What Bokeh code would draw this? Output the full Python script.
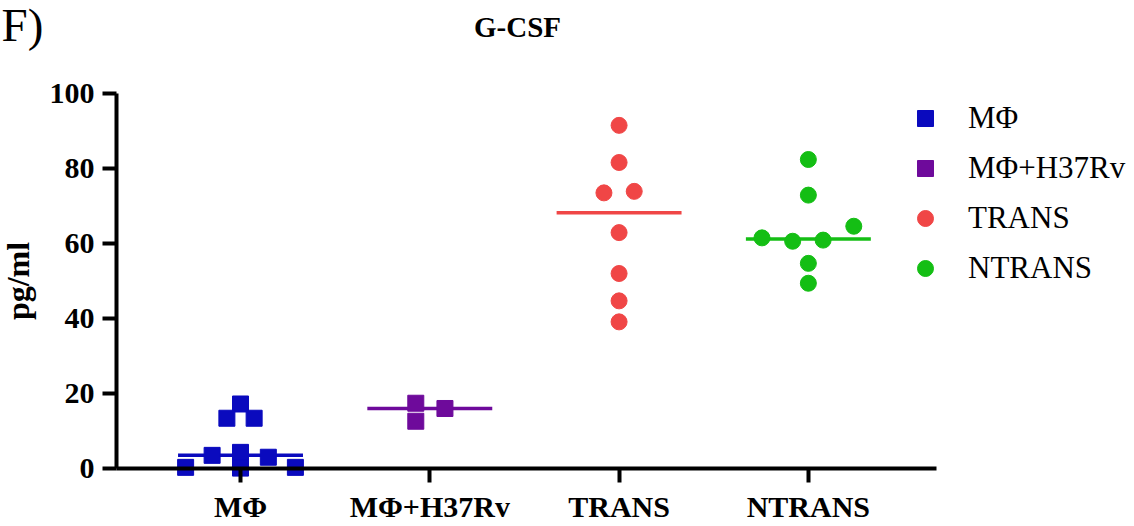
import numpy as np
from bokeh.plotting import figure
from bokeh.models import Range1d, FixedTicker, Legend, LegendItem, Label
from bokeh.embed import file_html
from bokeh.resources import INLINE

# ---- data ----
groups = ["MΦ", "MΦ+H37Rv", "TRANS", "NTRANS"]
mf_vals = [17.2, 13.4, 13.4, 3.5, 4.3, 3.0, 0.3, 0.1, 0.3]
mfh_vals = [17.4, 12.6, 16.0]
trans_vals = [91.5, 81.6, 73.5, 73.9, 62.9, 52.0, 44.7, 39.1]
ntrans_vals = [82.4, 72.9, 64.6, 61.5, 60.6, 60.9, 54.7, 49.4]
y_ticks = [0, 20, 40, 60, 80, 100]

# ---- layout (horizontal scatter spread, category units) ----
mf_dx = [0, -0.072, 0.072, -0.15, 0, 0.147, -0.29, 0, 0.29]
mfh_dx = [-0.074, -0.074, 0.08]
trans_dx = [0, 0, -0.08, 0.08, 0, 0, 0, 0]
ntrans_dx = [0, 0, 0.24, -0.245, -0.083, 0.078, 0, 0]

colors = ["#0A0ABE", "#6E0A9B", "#F04646", "#14BE14"]
markers = ["square", "square", "circle", "circle"]
series = [mf_vals, mfh_vals, trans_vals, ntrans_vals]
offsets = [mf_dx, mfh_dx, trans_dx, ntrans_dx]

SERIF = "Liberation Serif"
W, H = 1134, 526
X_LO, X_HI = -0.655, 3.677      # visible extent of the category axis
Y_LO, Y_HI = 0, 100

# The frame spans the whole canvas; axes are pinned with fixed_location.
p = figure(width=W, height=H, output_backend="svg", toolbar_location=None,
           x_range=Range1d(-1.268, 4.723), y_range=Range1d(-15.47, 124.8),
           min_border_left=0, min_border_right=0, min_border_top=0, min_border_bottom=0)
p.outline_line_color = None
p.grid.visible = False
p.background_fill_color = "white"
p.border_fill_color = "white"

renderers = []
for i, (vals, dx, c, m) in enumerate(zip(series, offsets, colors, markers)):
    xs = [i + d for d in dx]
    med = float(np.median(vals))
    p.segment(x0=[i - 0.33], y0=[med], x1=[i + 0.33], y1=[med], line_color=c, line_width=3.5)
    r = p.scatter(x=xs, y=vals, marker=m, size=16, fill_color=c, line_color=c, line_width=1)
    renderers.append(r)

# axes
for ax in (p.xaxis[0], p.yaxis[0]):
    ax.axis_line_width = 4
    ax.axis_line_color = "black"
    ax.major_tick_line_width = 4
    ax.major_tick_line_color = "black"
    ax.major_tick_out = 14
    ax.major_tick_in = 0
    ax.minor_tick_line_color = None
    ax.major_label_text_font = SERIF
    ax.major_label_text_font_style = "bold"
    ax.major_label_text_font_size = "30px"
    ax.major_label_text_color = "black"

p.xaxis.ticker = FixedTicker(ticks=list(range(len(groups))))
p.xaxis.major_label_overrides = {i: g for i, g in enumerate(groups)}
p.xaxis.major_label_standoff = 8
p.xaxis.bounds = (X_LO, X_HI)
p.xaxis.fixed_location = Y_LO

p.yaxis.ticker = FixedTicker(ticks=y_ticks)
p.yaxis.major_label_standoff = 8
p.yaxis.bounds = (Y_LO, Y_HI)
p.yaxis.fixed_location = X_LO
p.yaxis.axis_label = "pg/ml"
p.yaxis.axis_label_text_font = SERIF
p.yaxis.axis_label_text_font_style = "bold"
p.yaxis.axis_label_text_font_size = "32px"
p.yaxis.axis_label_text_color = "black"
p.yaxis.axis_label_standoff = 11

legend = Legend(items=[LegendItem(label=g, renderers=[r]) for g, r in zip(groups, renderers)],
                location=(905, 238), glyph_width=40, glyph_height=40, spacing=10,
                label_standoff=23, label_text_font=SERIF, label_text_font_size="31px",
                label_text_color="black",
                border_line_color=None, background_fill_alpha=0, padding=10, margin=0)
p.add_layout(legend, "center")

p.add_layout(Label(x=517, y=H - 26, x_units="screen", y_units="screen", text="G-CSF",
                   text_font=SERIF, text_font_style="bold", text_font_size="29px",
                   text_color="black", text_align="center", text_baseline="alphabetic"))
p.add_layout(Label(x=1, y=H - 24, x_units="screen", y_units="screen", text="F)",
                   text_font=SERIF, text_font_size="47px", text_color="black",
                   text_align="left", text_baseline="alphabetic"))

open("out.html", "w").write(file_html(p, INLINE))
